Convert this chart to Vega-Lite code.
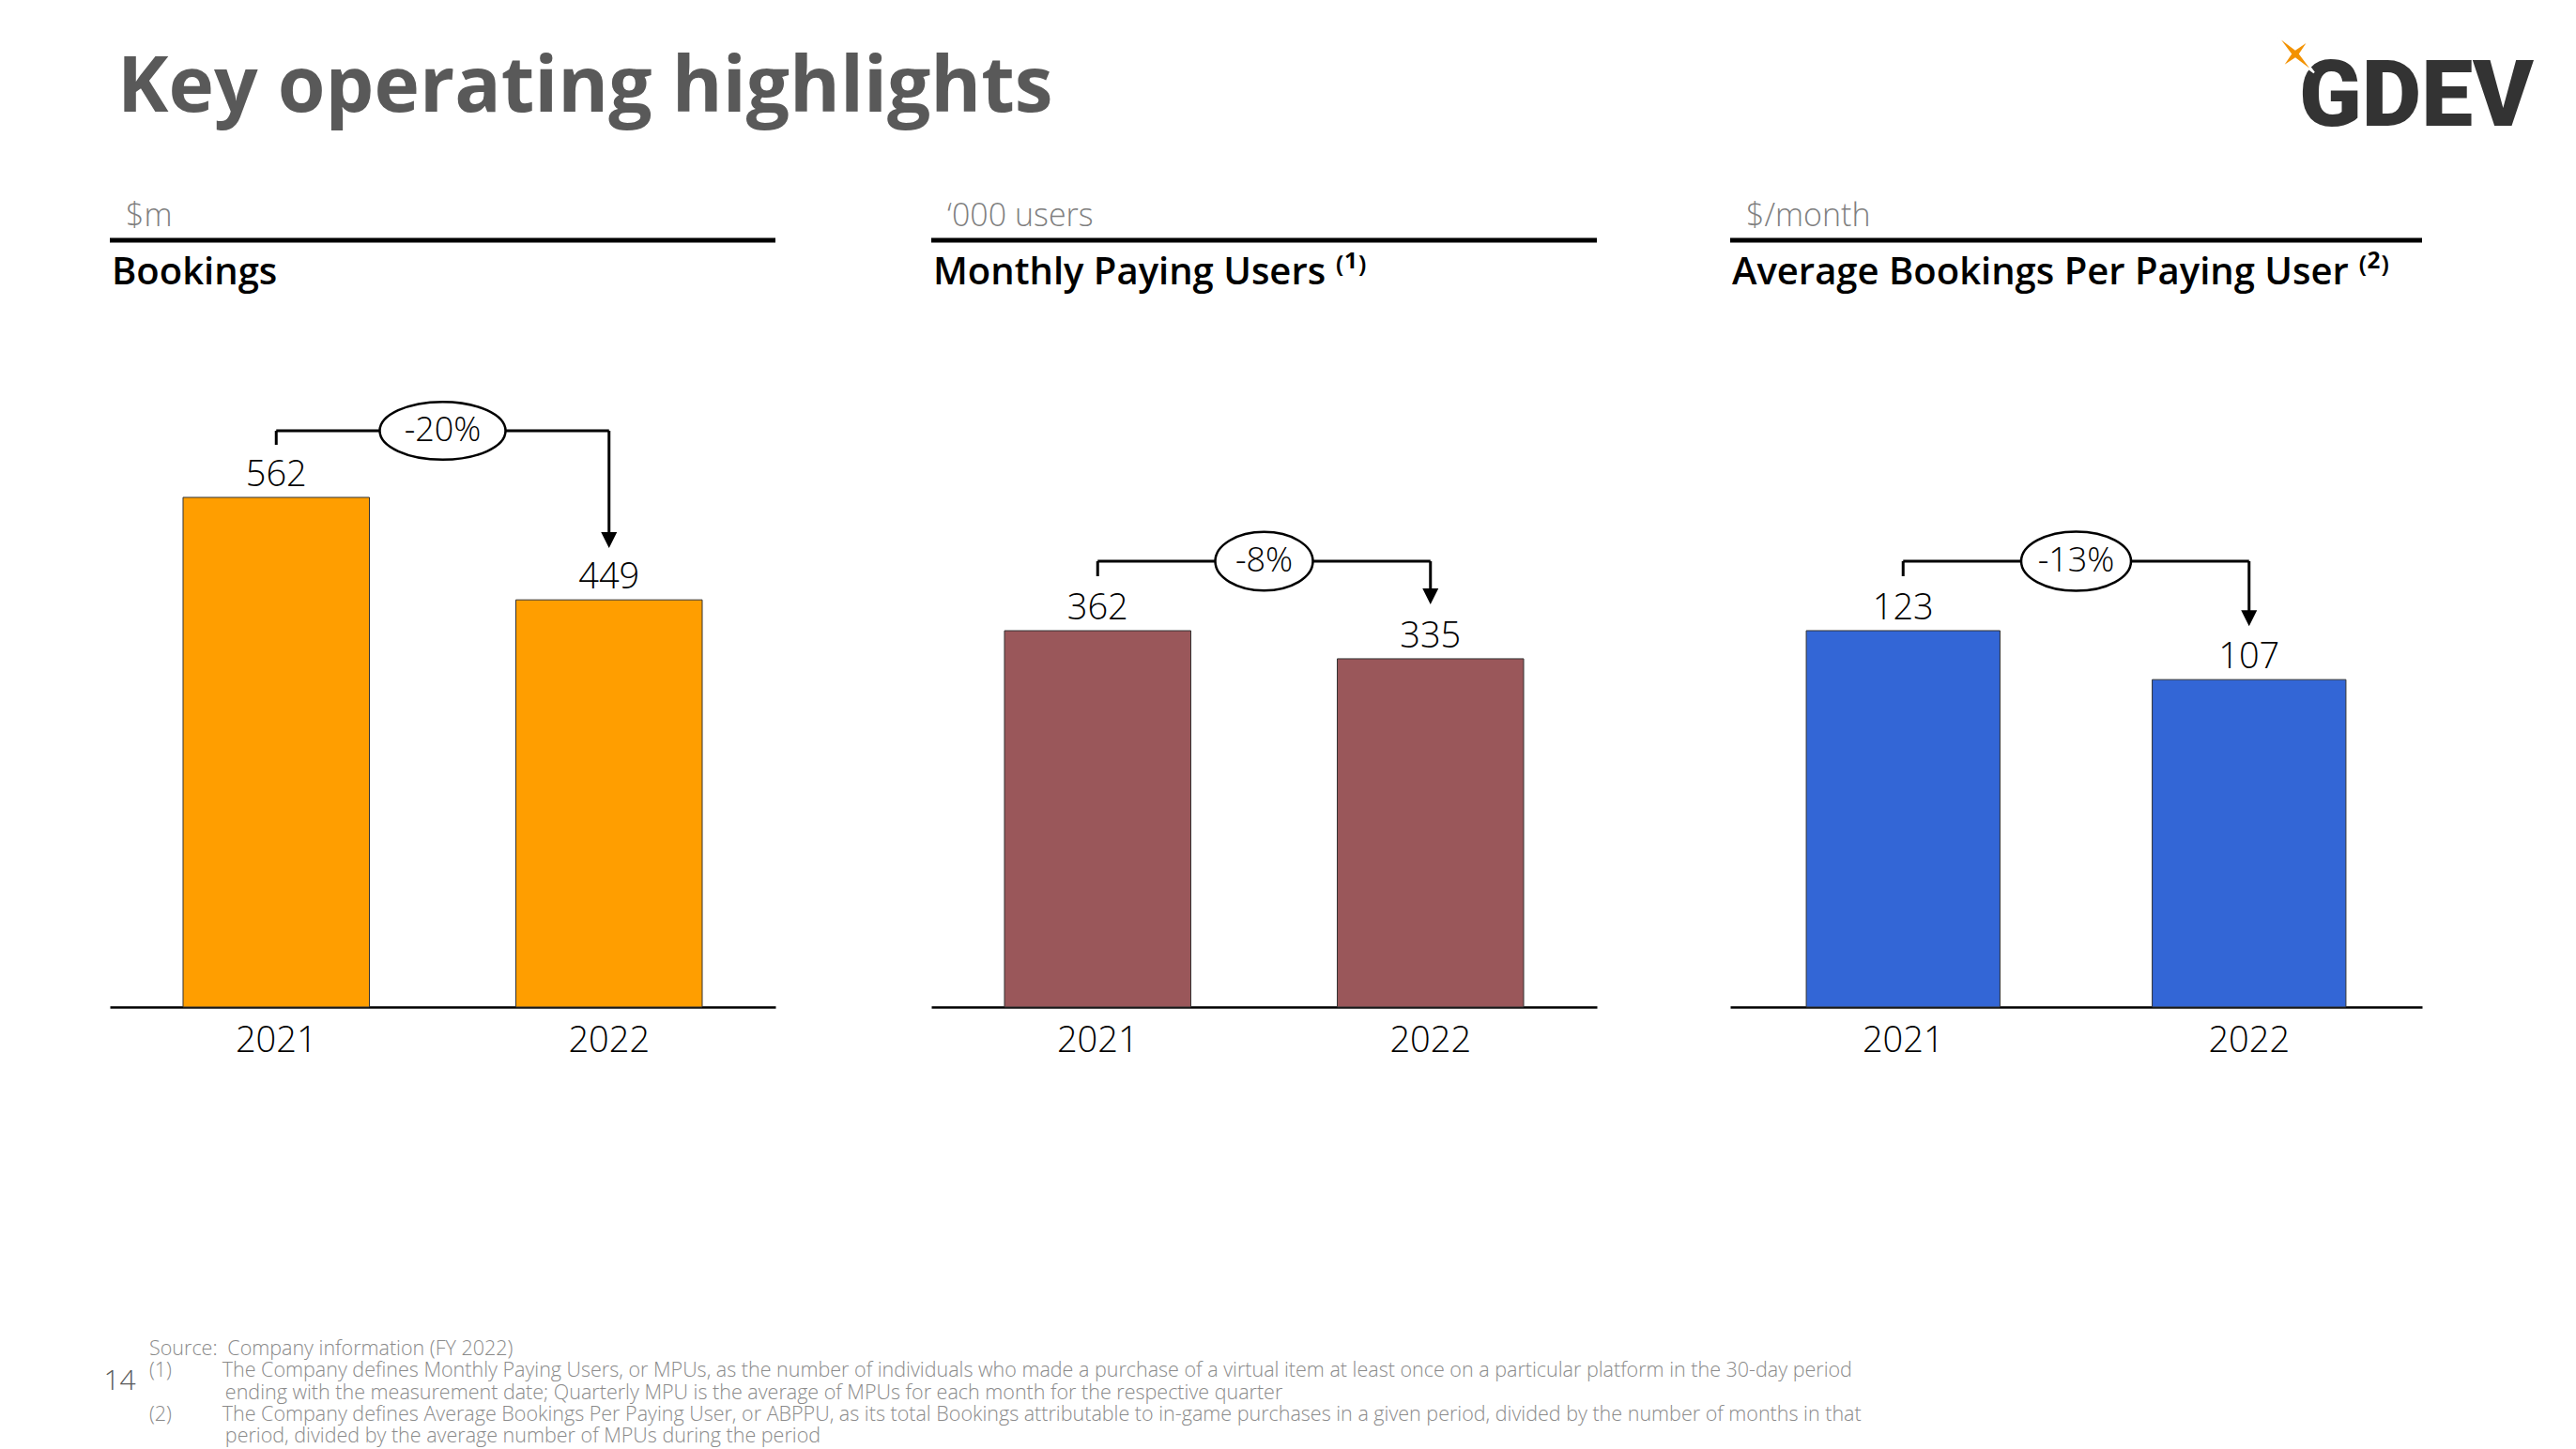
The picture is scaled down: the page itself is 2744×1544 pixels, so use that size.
{
  "$schema": "https://vega.github.io/schema/vega-lite/v6.json",
  "background": "white",
  "padding": {"left": 110, "top": 33, "right": 0, "bottom": 10},
  "bounds": "flush",
  "spacing": 166,
  "config": {"view": {"stroke": null}, "font": "Open Sans"},
  "hconcat": [
    {
      "width": 709,
      "height": 817,
      "title": {"text": "Key operating highlights", "anchor": "start", "frame": "group", "dx": 8, "offset": 78, "fontSize": 82, "fontWeight": "bold", "font": "Open Sans", "color": "#595959", "baseline": "top"},
      "resolve": {"scale": {"x": "independent"}, "axis": {"x": "independent"}},
      "layer": [
        {
          "data": {"values": [{"year": "2021", "value": 562}, {"year": "2022", "value": 449}]},
          "encoding": {
            "x": {"field": "year", "type": "nominal", "scale": {"paddingInner": 0.44, "paddingOuter": 0.22},
              "axis": {"orient": "bottom", "title": null, "domain": true, "domainColor": "black", "domainWidth": 2.5, "ticks": false, "tickSize": 0, "labelAngle": 0, "labelFontSize": 38, "labelFont": "Open Sans", "labelFontWeight": 300, "labelColor": "black", "labelPadding": 17, "grid": false}},
            "y": {"field": "value", "type": "quantitative", "scale": {"domain": [0, 845.6], "nice": false},
              "axis": {"orient": "left", "domain": false, "ticks": false, "labels": false, "grid": false, "title": "14", "titleAngle": 0, "titleX": -7, "titleY": 1215, "titleAlign": "left", "titleBaseline": "middle", "titleFontSize": 30, "titleFontWeight": 300, "titleFont": "Open Sans", "titleColor": "#595959"}}
          },
          "layer": [
            {"mark": {"type": "bar", "fill": "#FF9E00", "stroke": "#333333", "strokeWidth": 1}},
            {"mark": {"type": "text", "baseline": "alphabetic", "dy": -12, "fontSize": 38, "fontWeight": 300, "font": "Open Sans", "color": "black"},
             "encoding": {"text": {"field": "value", "type": "quantitative"}}}
          ]
        },
        {
          "data": {"values": [{}]},
          "encoding": {
            "x": {"datum": 0, "type": "quantitative", "scale": {"domain": [0, 1], "nice": false, "zero": false}, "axis": null}
          },
          "layer": [
            {"mark": {"type": "rule", "color": "black", "strokeWidth": 5},
             "encoding": {"x": null, "y": {"datum": 845.6, "type": "quantitative", "scale": {"domain": [0, 845.6], "nice": false}}}},
            {"mark": {"type": "text", "text": "$m", "align": "left", "baseline": "alphabetic", "dx": 17, "dy": -15, "fontSize": 34, "fontWeight": 300, "font": "Open Sans", "color": "#7f7f7f"},
             "encoding": {"y": {"datum": 845.6, "type": "quantitative", "scale": {"domain": [0, 845.6], "nice": false}}}},
            {"mark": {"type": "text", "text": "Bookings", "align": "left", "baseline": "middle", "dx": 2, "dy": 35, "fontSize": 40, "fontWeight": 600, "font": "Open Sans", "color": "black"},
             "encoding": {"y": {"datum": 845.6, "type": "quantitative", "scale": {"domain": [0, 845.6], "nice": false}}}},
            {"mark": {"type": "rule", "color": "black", "strokeWidth": 3},
             "encoding": {
               "x": {"datum": 0.25, "type": "quantitative", "scale": {"domain": [0, 1], "nice": false, "zero": false}, "axis": null},
               "y": {"datum": 620, "type": "quantitative", "scale": {"domain": [0, 845.6], "nice": false}},
               "y2": {"datum": 635.5}
             }},
            {"mark": {"type": "rule", "color": "black", "strokeWidth": 3},
             "encoding": {
               "x": {"datum": 0.25, "type": "quantitative", "scale": {"domain": [0, 1], "nice": false, "zero": false}, "axis": null},
               "x2": {"datum": 0.75},
               "y": {"datum": 635.5, "type": "quantitative", "scale": {"domain": [0, 845.6], "nice": false}}
             }},
            {"mark": {"type": "rule", "color": "black", "strokeWidth": 3},
             "encoding": {
               "x": {"datum": 0.75, "type": "quantitative", "scale": {"domain": [0, 1], "nice": false, "zero": false}, "axis": null},
               "y": {"datum": 514.9, "type": "quantitative", "scale": {"domain": [0, 845.6], "nice": false}},
               "y2": {"datum": 635.5}
             }},
            {"mark": {"type": "point", "shape": "M-1,-1L1,-1L0,1Z", "size": 289, "filled": true, "fill": "black", "strokeWidth": 0, "opacity": 1},
             "encoding": {
               "x": {"datum": 0.75, "type": "quantitative", "scale": {"domain": [0, 1], "nice": false, "zero": false}, "axis": null},
               "y": {"datum": 514.9, "type": "quantitative", "scale": {"domain": [0, 845.6], "nice": false}}
             }},
            {"mark": {"type": "point", "shape": "M-1,0A1,0.46,0,1,0,1,0A1,0.46,0,1,0,-1,0Z", "size": 17956, "filled": true, "fill": "white", "stroke": "black", "strokeWidth": 2.5, "opacity": 1},
             "encoding": {
               "x": {"datum": 0.5, "type": "quantitative", "scale": {"domain": [0, 1], "nice": false, "zero": false}, "axis": null},
               "y": {"datum": 635.5, "type": "quantitative", "scale": {"domain": [0, 845.6], "nice": false}}
             }},
            {"mark": {"type": "text", "text": "-20%", "align": "center", "baseline": "middle", "fontSize": 36, "fontWeight": 300, "font": "Open Sans", "color": "black"},
             "encoding": {
               "x": {"datum": 0.5, "type": "quantitative", "scale": {"domain": [0, 1], "nice": false, "zero": false}, "axis": null},
               "y": {"datum": 635.5, "type": "quantitative", "scale": {"domain": [0, 845.6], "nice": false}}
             }}
          ]
        }
      ]
    },
    {
      "bounds": "flush",
      "spacing": 142,
      "hconcat": [
        {
          "width": 709,
          "height": 817,
          "title": {"text": ["Source:\u2002Company information (FY 2022)", "(1)\u2003\u2003\u2002The Company defines Monthly Paying Users, or MPUs, as the number of individuals who made a purchase of a virtual item at least once on a particular platform in the 30-day period", "\u200b\u2003\u2003\u2003\u2002\u00a0ending with the measurement date; Quarterly MPU is the average of MPUs for each month for the respective quarter", "(2)\u2003\u2003\u2002The Company defines Average Bookings Per Paying User, or ABPPU, as its total Bookings attributable to in-game purchases in a given period, divided by the number of months in that", "\u200b\u2003\u2003\u2003\u2002\u00a0period, divided by the average number of MPUs during the period"],
            "orient": "bottom", "anchor": "start", "frame": "group", "dx": -833, "offset": 299, "fontSize": 21.5, "fontWeight": 300, "font": "Open Sans", "color": "#8a8a8a", "lineHeight": 23.3, "baseline": "top"},
          "resolve": {"scale": {"x": "independent"}, "axis": {"x": "independent"}},
          "layer": [
            {
              "data": {"values": [{"year": "2021", "value": 362}, {"year": "2022", "value": 335}]},
              "encoding": {
                "x": {"field": "year", "type": "nominal", "scale": {"paddingInner": 0.44, "paddingOuter": 0.22},
                  "axis": {"orient": "bottom", "title": null, "domain": true, "domainColor": "black", "domainWidth": 2.5, "ticks": false, "tickSize": 0, "labelAngle": 0, "labelFontSize": 38, "labelFont": "Open Sans", "labelFontWeight": 300, "labelColor": "black", "labelPadding": 17, "grid": false}},
                "y": {"field": "value", "type": "quantitative", "scale": {"domain": [0, 737.6], "nice": false}, "axis": null}
              },
              "layer": [
                {"mark": {"type": "bar", "fill": "#9A575A", "stroke": "#333333", "strokeWidth": 1}},
                {"mark": {"type": "text", "baseline": "alphabetic", "dy": -12, "fontSize": 38, "fontWeight": 300, "font": "Open Sans", "color": "black"},
                 "encoding": {"text": {"field": "value", "type": "quantitative"}}}
              ]
            },
            {
              "data": {"values": [{}]},
              "encoding": {
                "x": {"datum": 0, "type": "quantitative", "scale": {"domain": [0, 1], "nice": false, "zero": false}, "axis": null}
              },
              "layer": [
                {"mark": {"type": "rule", "color": "black", "strokeWidth": 5},
                 "encoding": {"x": null, "y": {"datum": 737.6, "type": "quantitative", "scale": {"domain": [0, 737.6], "nice": false}}}},
                {"mark": {"type": "text", "text": "‘000 users", "align": "left", "baseline": "alphabetic", "dx": 17, "dy": -15, "fontSize": 34, "fontWeight": 300, "font": "Open Sans", "color": "#7f7f7f"},
                 "encoding": {"y": {"datum": 737.6, "type": "quantitative", "scale": {"domain": [0, 737.6], "nice": false}}}},
                {"mark": {"type": "text", "text": "Monthly Paying Users ⁽¹⁾", "align": "left", "baseline": "middle", "dx": 2, "dy": 35, "fontSize": 40, "fontWeight": 600, "font": "Open Sans", "color": "black"},
                 "encoding": {"y": {"datum": 737.6, "type": "quantitative", "scale": {"domain": [0, 737.6], "nice": false}}}},
                {"mark": {"type": "rule", "color": "black", "strokeWidth": 3},
                 "encoding": {
                   "x": {"datum": 0.25, "type": "quantitative", "scale": {"domain": [0, 1], "nice": false, "zero": false}, "axis": null},
                   "y": {"datum": 414.4, "type": "quantitative", "scale": {"domain": [0, 737.6], "nice": false}},
                   "y2": {"datum": 428.8}
                 }},
                {"mark": {"type": "rule", "color": "black", "strokeWidth": 3},
                 "encoding": {
                   "x": {"datum": 0.25, "type": "quantitative", "scale": {"domain": [0, 1], "nice": false, "zero": false}, "axis": null},
                   "x2": {"datum": 0.75},
                   "y": {"datum": 428.8, "type": "quantitative", "scale": {"domain": [0, 737.6], "nice": false}}
                 }},
                {"mark": {"type": "rule", "color": "black", "strokeWidth": 3},
                 "encoding": {
                   "x": {"datum": 0.75, "type": "quantitative", "scale": {"domain": [0, 1], "nice": false, "zero": false}, "axis": null},
                   "y": {"datum": 395.0, "type": "quantitative", "scale": {"domain": [0, 737.6], "nice": false}},
                   "y2": {"datum": 428.8}
                 }},
                {"mark": {"type": "point", "shape": "M-1,-1L1,-1L0,1Z", "size": 289, "filled": true, "fill": "black", "strokeWidth": 0, "opacity": 1},
                 "encoding": {
                   "x": {"datum": 0.75, "type": "quantitative", "scale": {"domain": [0, 1], "nice": false, "zero": false}, "axis": null},
                   "y": {"datum": 395.0, "type": "quantitative", "scale": {"domain": [0, 737.6], "nice": false}}
                 }},
                {"mark": {"type": "point", "shape": "M-1,0A1,0.6,0,1,0,1,0A1,0.6,0,1,0,-1,0Z", "size": 10816, "filled": true, "fill": "white", "stroke": "black", "strokeWidth": 2.5, "opacity": 1},
                 "encoding": {
                   "x": {"datum": 0.5, "type": "quantitative", "scale": {"domain": [0, 1], "nice": false, "zero": false}, "axis": null},
                   "y": {"datum": 428.8, "type": "quantitative", "scale": {"domain": [0, 737.6], "nice": false}}
                 }},
                {"mark": {"type": "text", "text": "-8%", "align": "center", "baseline": "middle", "fontSize": 36, "fontWeight": 300, "font": "Open Sans", "color": "black"},
                 "encoding": {
                   "x": {"datum": 0.5, "type": "quantitative", "scale": {"domain": [0, 1], "nice": false, "zero": false}, "axis": null},
                   "y": {"datum": 428.8, "type": "quantitative", "scale": {"domain": [0, 737.6], "nice": false}}
                 }}
              ]
            }
          ]
        },
        {
          "width": 737,
          "height": 817,
          "resolve": {"scale": {"x": "independent"}, "axis": {"x": "independent"}},
          "layer": [
            {
              "data": {"values": [{"year": "2021", "value": 123}, {"year": "2022", "value": 107}]},
              "encoding": {
                "x": {"field": "year", "type": "nominal", "scale": {"paddingInner": 0.44, "paddingOuter": 0.22},
                  "axis": {"orient": "bottom", "title": null, "domain": true, "domainColor": "black", "domainWidth": 2.5, "ticks": false, "tickSize": 0, "labelAngle": 0, "labelFontSize": 38, "labelFont": "Open Sans", "labelFontWeight": 300, "labelColor": "black", "labelPadding": 17, "grid": false}},
                "y": {"field": "value", "type": "quantitative", "scale": {"domain": [0, 250.6], "nice": false}, "axis": null}
              },
              "layer": [
                {"mark": {"type": "bar", "fill": "#3366D6", "stroke": "#333333", "strokeWidth": 1}},
                {"mark": {"type": "text", "baseline": "alphabetic", "dy": -12, "fontSize": 38, "fontWeight": 300, "font": "Open Sans", "color": "black"},
                 "encoding": {"text": {"field": "value", "type": "quantitative"}}}
              ]
            },
            {
              "data": {"values": [{}]},
              "encoding": {
                "x": {"datum": 0, "type": "quantitative", "scale": {"domain": [0, 1], "nice": false, "zero": false}, "axis": null}
              },
              "layer": [
                {"mark": {"type": "rule", "color": "black", "strokeWidth": 5},
                 "encoding": {"x": null, "y": {"datum": 250.6, "type": "quantitative", "scale": {"domain": [0, 250.6], "nice": false}}}},
                {"mark": {"type": "text", "text": "$/month", "align": "left", "baseline": "alphabetic", "dx": 17, "dy": -15, "fontSize": 34, "fontWeight": 300, "font": "Open Sans", "color": "#7f7f7f"},
                 "encoding": {"y": {"datum": 250.6, "type": "quantitative", "scale": {"domain": [0, 250.6], "nice": false}}}},
                {"mark": {"type": "text", "text": "Average Bookings Per Paying User ⁽²⁾", "align": "left", "baseline": "middle", "dx": 2, "dy": 35, "fontSize": 40, "fontWeight": 600, "font": "Open Sans", "color": "black"},
                 "encoding": {"y": {"datum": 250.6, "type": "quantitative", "scale": {"domain": [0, 250.6], "nice": false}}}},
                {"mark": {"type": "rule", "color": "black", "strokeWidth": 3},
                 "encoding": {
                   "x": {"datum": 0.25, "type": "quantitative", "scale": {"domain": [0, 1], "nice": false, "zero": false}, "axis": null},
                   "y": {"datum": 140.8, "type": "quantitative", "scale": {"domain": [0, 250.6], "nice": false}},
                   "y2": {"datum": 145.7}
                 }},
                {"mark": {"type": "rule", "color": "black", "strokeWidth": 3},
                 "encoding": {
                   "x": {"datum": 0.25, "type": "quantitative", "scale": {"domain": [0, 1], "nice": false, "zero": false}, "axis": null},
                   "x2": {"datum": 0.75},
                   "y": {"datum": 145.7, "type": "quantitative", "scale": {"domain": [0, 250.6], "nice": false}}
                 }},
                {"mark": {"type": "rule", "color": "black", "strokeWidth": 3},
                 "encoding": {
                   "x": {"datum": 0.75, "type": "quantitative", "scale": {"domain": [0, 1], "nice": false, "zero": false}, "axis": null},
                   "y": {"datum": 127.1, "type": "quantitative", "scale": {"domain": [0, 250.6], "nice": false}},
                   "y2": {"datum": 145.7}
                 }},
                {"mark": {"type": "point", "shape": "M-1,-1L1,-1L0,1Z", "size": 289, "filled": true, "fill": "black", "strokeWidth": 0, "opacity": 1},
                 "encoding": {
                   "x": {"datum": 0.75, "type": "quantitative", "scale": {"domain": [0, 1], "nice": false, "zero": false}, "axis": null},
                   "y": {"datum": 127.1, "type": "quantitative", "scale": {"domain": [0, 250.6], "nice": false}}
                 }},
                {"mark": {"type": "point", "shape": "M-1,0A1,0.54,0,1,0,1,0A1,0.54,0,1,0,-1,0Z", "size": 13689, "filled": true, "fill": "white", "stroke": "black", "strokeWidth": 2.5, "opacity": 1},
                 "encoding": {
                   "x": {"datum": 0.5, "type": "quantitative", "scale": {"domain": [0, 1], "nice": false, "zero": false}, "axis": null},
                   "y": {"datum": 145.7, "type": "quantitative", "scale": {"domain": [0, 250.6], "nice": false}}
                 }},
                {"mark": {"type": "text", "text": "-13%", "align": "center", "baseline": "middle", "fontSize": 36, "fontWeight": 300, "font": "Open Sans", "color": "black"},
                 "encoding": {
                   "x": {"datum": 0.5, "type": "quantitative", "scale": {"domain": [0, 1], "nice": false, "zero": false}, "axis": null},
                   "y": {"datum": 145.7, "type": "quantitative", "scale": {"domain": [0, 250.6], "nice": false}}
                 }},
                {"mark": {"type": "text", "text": "GDEV", "align": "left", "baseline": "middle", "fontSize": 98, "fontWeight": 900, "font": "Roboto", "color": "#333333"},
                 "encoding": {
                   "x": {"datum": 0.8222, "type": "quantitative", "scale": {"domain": [0, 1], "nice": false, "zero": false}, "axis": null},
                   "y": {"datum": 297, "type": "quantitative", "scale": {"domain": [0, 250.6], "nice": false}}
                 }},
                {"mark": {"type": "point", "shape": "M-1,-1L0,-0.25L0.75,-0.75L0.25,0L1,1L0,0.25L-0.75,0.75L-0.25,0Z", "size": 1600, "filled": true, "fill": "#F39200", "stroke": "white", "strokeWidth": 2, "opacity": 1},
                 "encoding": {
                   "x": {"datum": 0.8168, "type": "quantitative", "scale": {"domain": [0, 1], "nice": false, "zero": false}, "axis": null},
                   "y": {"datum": 311.5, "type": "quantitative", "scale": {"domain": [0, 250.6], "nice": false}}
                 }}
              ]
            }
          ]
        }
      ]
    }
  ]
}
